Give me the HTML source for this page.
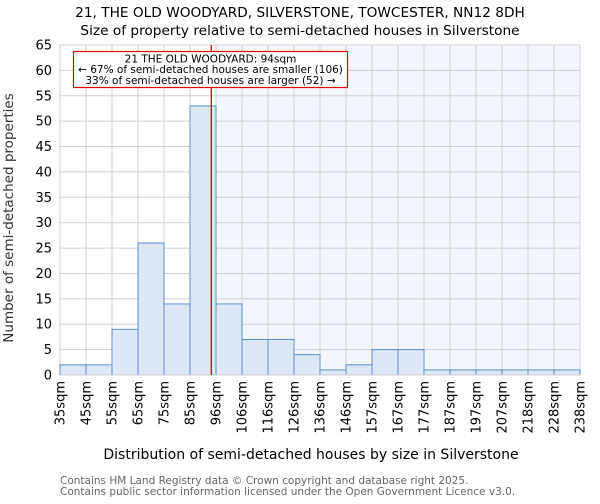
<!DOCTYPE html>
<html><head><meta charset="utf-8"><style>
body{margin:0;background:#fff;font-family:"DejaVu Sans","Liberation Sans",sans-serif}
</style></head><body>
<svg width="600" height="500" xmlns="http://www.w3.org/2000/svg" font-family="DejaVu Sans, Liberation Sans, sans-serif">
<text x="300" y="17" text-anchor="middle" font-size="13.7">21, THE OLD WOODYARD, SILVERSTONE, TOWCESTER, NN12 8DH</text>
<text x="300" y="35" text-anchor="middle" font-size="13.7">Size of property relative to semi-detached houses in Silverstone</text>
<g id="plot"></g>
<text x="311" y="459" text-anchor="middle" font-size="14">Distribution of semi-detached houses by size in Silverstone</text>
<text transform="translate(13,218) rotate(-90)" text-anchor="middle" font-size="13.5" fill="#333">Number of semi-detached properties</text>
<text x="60" y="484" font-size="10.5" fill="#666">Contains HM Land Registry data © Crown copyright and database right 2025.</text>
<text x="60" y="495" font-size="10.5" fill="#666">Contains public sector information licensed under the Open Government Licence v3.0.</text>
</svg>
<script>
const edgeLabels=["35sqm","45sqm","55sqm","65sqm","75sqm","85sqm","96sqm","106sqm","116sqm","126sqm","136sqm","146sqm","157sqm","167sqm","177sqm","187sqm","197sqm","207sqm","218sqm","228sqm","238sqm"];
const counts=[2,2,9,26,14,53,14,7,7,4,1,2,5,5,1,1,1,1,1,1];
const yTicks=[0,5,10,15,20,25,30,35,40,45,50,55,60,65];
const propertyBin=5, propertyFrac=(94-85)/(96-85);
const L=60,R=580,T=45,B=375,YMAX=65;
const NS="http://www.w3.org/2000/svg";
const g=document.getElementById('plot');
const bw=(R-L)/counts.length;
const x=i=>L+i*bw;
const y=v=>B-(v/YMAX)*(B-T);
function mk(t,a){const e=document.createElementNS(NS,t);for(const k in a)e.setAttribute(k,a[k]);g.appendChild(e);return e;}
const px=x(propertyBin+propertyFrac);
let hl=mk('rect',{x:x(propertyBin+1),y:T,width:R-x(propertyBin+1),height:B-T,fill:'#f3f6fc'});


yTicks.forEach(v=>{
 let l=mk('line',{x1:L,x2:R,y1:y(v),y2:y(v),stroke:'#d0d0d0'});
 
 
 let t=mk('text',{x:L-8,y:y(v)+4.5,'text-anchor':'end','font-size':'13'});t.textContent=v;
 
 
});
edgeLabels.forEach((s,i)=>{
 let l=mk('line',{x1:x(i),x2:x(i),y1:T,y2:B,stroke:'#d0d0d0'});
 
 
 let t=mk('text',{transform:`translate(${x(i)+4.5},381) rotate(-90)`,'text-anchor':'end','font-size':'13'});t.textContent=s;
 
 
});
counts.forEach((c,i)=>{
 let r=mk('rect',{x:x(i),y:y(c),width:bw,height:B-y(c),fill:'#dce6f4',stroke:'#5b8fd6','stroke-width':1});
 
 
});
let ax=mk('line',{x1:L,x2:R,y1:B,y2:B,stroke:'#ccc'});


let pl=mk('line',{x1:px,x2:px,y1:T,y2:B,stroke:'#dd0000','stroke-width':1.3});


let box=mk('rect',{x:73.5,y:51.5,width:274,height:36,fill:'#fff',stroke:'#dd0000','stroke-width':1.2});


["21 THE OLD WOODYARD: 94sqm","← 67% of semi-detached houses are smaller (106)","33% of semi-detached houses are larger (52) →"].forEach((s,i)=>{
 let t=mk('text',{x:210.5,y:62.5+i*10.7,'text-anchor':'middle','font-size':'10.5'});t.textContent=s;
 
 
});
</script>
</body></html>
